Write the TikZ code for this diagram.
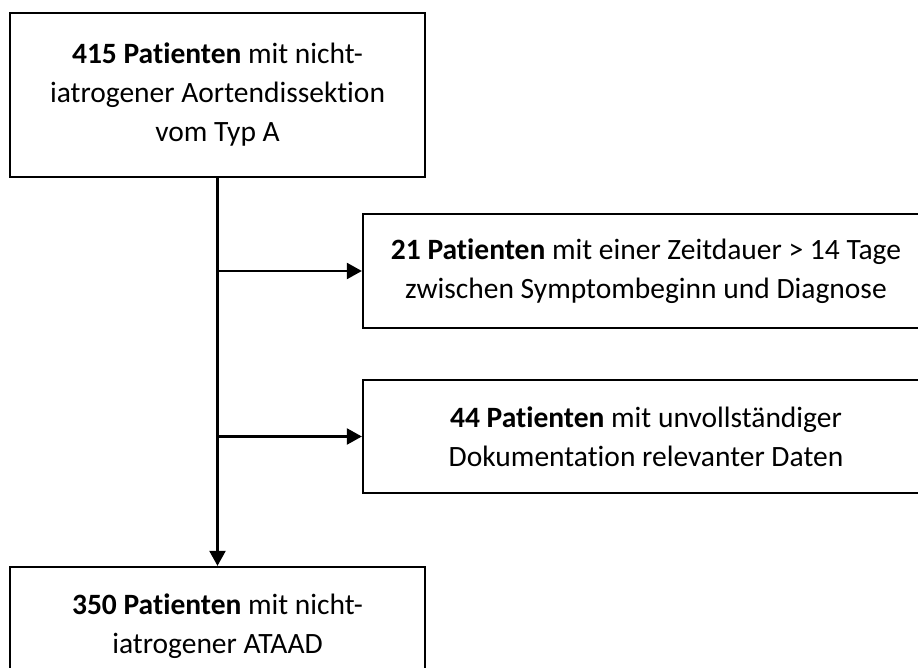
\documentclass[tikz,border=0pt]{standalone}
\usepackage{fontspec}
\setmainfont{Carlito}[Ligatures=NoCommon]
\usetikzlibrary{arrows.meta}

\begin{document}
\begin{tikzpicture}[x=1pt, y=-1pt,
  box/.style={draw, line width=2.3pt, align=center, inner sep=0pt, font=\fontsize{29.5}{39}\selectfont},
  flow/.style={line width=2.3pt, -{Triangle[length=15pt, width=16pt]}}]
  \useasboundingbox (0,0) rectangle (918,668);

  % main column
  \node[box, minimum width=415pt, minimum height=164pt] (total) at (217.5,95)
    {\textbf{415 Patienten} mit nicht-\\iatrogener Aortendissektion\\vom Typ A};
  \node[box, minimum width=415pt, minimum height=118pt] (final) at (217.5,626)
    {\textbf{350 Patienten} mit nicht-\\iatrogener ATAAD};

  % excluded patients
  \node[box, minimum width=566pt, minimum height=114pt] (excl1) at (646,271)
    {\textbf{21 Patienten} mit einer Zeitdauer > 14 Tage\\zwischen Symptombeginn und Diagnose};
  \node[box, minimum width=566pt, minimum height=113pt] (excl2) at (646,436.5)
    {\textbf{44 Patienten} mit unvollständiger\\Dokumentation relevanter Daten};

  \coordinate (j1) at (total.south |- excl1.west);
  \coordinate (j2) at (total.south |- excl2.west);

  \draw[flow] (total.south) -- (final.north);
  \draw[flow] (j1) -- (excl1.west);
  \draw[flow] (j2) -- (excl2.west);
\end{tikzpicture}
\end{document}
